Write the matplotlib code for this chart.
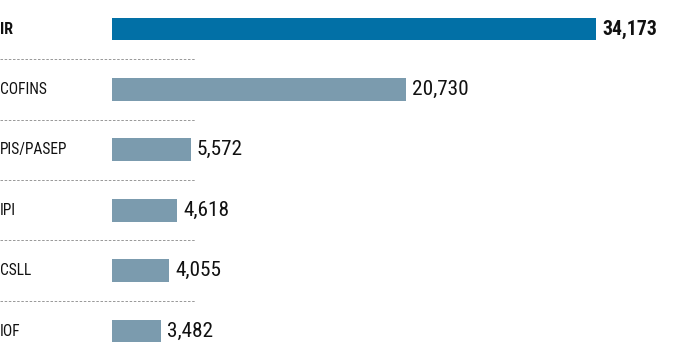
import matplotlib
matplotlib.use("Agg")
import matplotlib.pyplot as plt
import matplotlib.transforms as mtransforms

categories = ["IR", "COFINS", "PIS/PASEP", "IPI", "CSLL", "IOF"]
values = [34173, 20730, 5572, 4618, 4055, 3482]
value_labels = ["34,173", "20,730", "5,572", "4,618", "4,055", "3,482"]

highlight_color = "#0270a6"
base_color = "#7b9bae"

fig = plt.figure(figsize=(7, 3.5), dpi=100)
fig.patch.set_facecolor("white")

W, H = 700, 350
x0 = 112
px_per_unit = 484 / 34173
ax = fig.add_axes([x0 / W, 0, 1 - x0 / W, 1])
ax.set_xlim(0, (W - x0) / px_per_unit)
step = 60.4
top = 29
ax.set_ylim((H - top) / step, -top / step)
ax.axis("off")

fam = ["Roboto Condensed", "Roboto", "DejaVu Sans"]
trans = mtransforms.blended_transform_factory(fig.transFigure, ax.transData)

for i, (cat, v, lab) in enumerate(zip(categories, values, value_labels)):
    first = i == 0
    ax.barh(i, v, height=0.38, color=highlight_color if first else base_color, linewidth=0)
    ax.text(v + 6 / px_per_unit, i, lab, va="center", ha="left",
            fontsize=14.2 if first else 15.3, family=fam,
            fontweight="bold" if first else "normal", color="#111111")
    ax.text(0.0, i, cat, transform=trans, va="center", ha="left",
            fontsize=11.5 if first else 11.2, family=fam,
            fontweight="bold" if first else "normal", color="#111111")
    if i < len(categories) - 1:
        ax.plot([0, 195 / W], [i + 0.5, i + 0.5], transform=trans, clip_on=False,
                color="#888888", lw=0.6, linestyle=(0, (3, 2)))

fig.savefig("out.png", dpi=100, facecolor="white")
